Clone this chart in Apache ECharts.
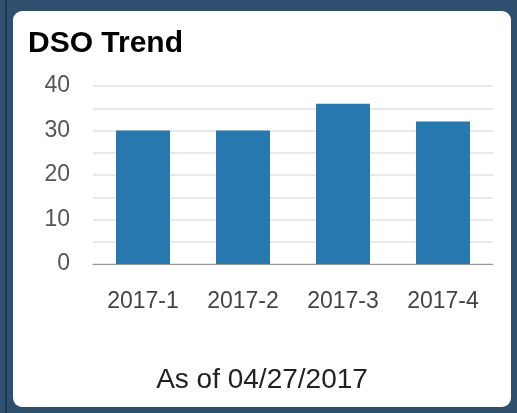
<!DOCTYPE html>
<html>
<head>
<meta charset="utf-8">
<script src="https://cdn.jsdelivr.net/npm/echarts@6/dist/echarts.min.js"></script>
<style>
    html, body { margin: 0; padding: 0; }
    body { width: 517px; height: 413px; background: #2f4f6f; position: relative; overflow: hidden; }
    #edge { position: absolute; left: 5px; top: 0; width: 2px; height: 413px; background: #1e3650; }
    #card { position: absolute; left: 13px; top: 11px; width: 498px; height: 396px; background: #fff; border-radius: 9px; overflow: hidden; }
    #chart { width: 498px; height: 396px; }
</style>
</head>
<body>
<div id="edge"></div>
<div id="card"><div id="chart"></div></div>
<script>
    // quarters and DSO values
    var quarters = ['2017-1', '2017-2', '2017-3', '2017-4'];
    var dsoValues = [30, 30, 36, 32];
    var chartTitle = 'DSO Trend';
    var asOfText = 'As of 04/27/2017';

    var chart = echarts.init(document.getElementById('chart'));

    var option = {
        animation: false,
        title: [
            {
                text: chartTitle,
                left: 15,
                top: 18,
                padding: 0,
                textStyle: {
                    fontFamily: 'Liberation Sans, Arial',
                    fontWeight: 'bold',
                    fontSize: 30,
                    color: '#000'
                }
            },
            {
                text: asOfText,
                left: 'center',
                top: 355,
                padding: 0,
                textStyle: {
                    fontFamily: 'Liberation Sans, Arial',
                    fontWeight: 'normal',
                    fontSize: 28,
                    color: '#222'
                }
            }
        ],
        grid: {
            left: 80,
            right: 18,
            top: 75,
            height: 178,
            containLabel: false
        },
        xAxis: {
            type: 'category',
            data: quarters,
            axisLine: { lineStyle: { color: '#999', width: 1 } },
            axisTick: { show: false },
            axisLabel: {
                margin: 26,
                fontFamily: 'Liberation Sans, Arial',
                fontSize: 23,
                color: '#444'
            }
        },
        yAxis: {
            type: 'value',
            min: 0,
            max: 40,
            interval: 10,
            axisLine: { show: false },
            axisTick: { show: false },
            axisLabel: {
                margin: 23,
                fontFamily: 'Liberation Sans, Arial',
                fontSize: 23,
                color: '#555'
            },
            splitLine: { lineStyle: { color: '#e6eaee', width: 2 } },
            minorTick: { show: false, splitNumber: 2 },
            minorSplitLine: { show: true, lineStyle: { color: '#e6eaee', width: 2 } }
        },
        series: [
            {
                type: 'bar',
                data: dsoValues,
                barWidth: 54,
                itemStyle: { color: '#2878b0' }
            }
        ]
    };

    chart.setOption(option);
</script>
</body>
</html>
